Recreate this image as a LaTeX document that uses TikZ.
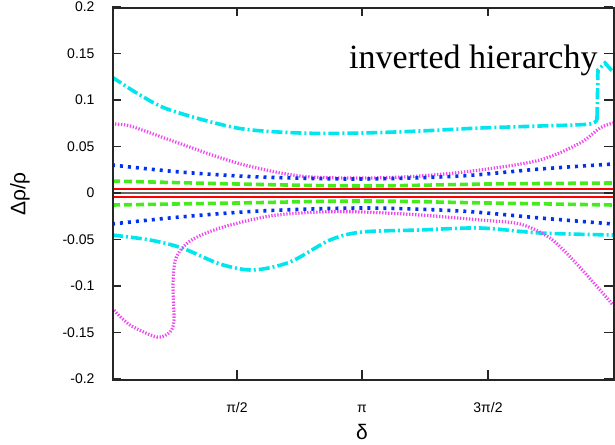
\documentclass[tikz,border=0pt]{standalone}
\usepackage{fontspec}
\setmainfont{Liberation Serif}
\newfontfamily\ticks{Liberation Sans}
\definecolor{cyc}{RGB}{0,230,238}
\definecolor{mgc}{RGB}{240,70,240}
\definecolor{blc}{RGB}{0,50,240}
\definecolor{grc}{RGB}{70,235,30}
\begin{document}
\begin{tikzpicture}[x=1pt,y=-1pt,
  cy/.style={cyc,line width=3.6pt,dash pattern=on 11pt off 3pt on 2pt off 3pt},
  mg/.style={mgc,line width=3.2pt,dash pattern=on 1.3pt off 1.7pt},
  bl/.style={blc,line width=3.6pt,dash pattern=on 3pt off 5pt},
  gr/.style={grc,line width=3.6pt,dash pattern=on 8pt off 4pt},
  rd/.style={red,line width=2.6pt},
  tk/.style={font=\ticks\fontsize{14}{14}\selectfont}]
\useasboundingbox (0,0) rectangle (615,444);
\begin{scope}
\clip (112,7) rectangle (613,379);
\draw[cy] plot[smooth] coordinates {(112,77) (140,95) (170,110) (237,128) (300,133) (362,133) (420,131) (480,128) (540,126) (590,124) (597,118)};
\draw[cy] (597,118) -- (598,70) -- (605,63) -- (613,72);
\draw[cy] plot[smooth] coordinates {(112,235) (150,240) (182,248) (220,264) (253,270) (290,262) (330,240) (362,232) (420,230) (480,228) (540,233) (613,235)};
\draw[mg] plot[smooth] coordinates {(112,124) (130,126) (170,140) (237,163) (300,176) (362,178) (420,176) (480,170) (540,160) (580,143) (600,128) (613,123)};
\draw[mg] plot[smooth] coordinates {(112,308) (130,325) (157,337) (170,332) (174,320) (173,285) (176,258) (190,241) (220,228) (270,216) (320,212) (362,212) (420,215) (480,220) (520,224) (550,238) (575,262) (600,290) (613,305)};
\draw[bl] plot[smooth] coordinates {(112,165) (180,172) (260,177) (362,179) (460,176) (540,169) (613,164)};
\draw[bl] plot[smooth] coordinates {(112,224) (180,217) (260,211) (362,208) (460,211) (540,218) (613,224)};
\draw[gr] plot[smooth] coordinates {(112,181) (237,184) (362,186) (488,184) (613,183)};
\draw[gr] plot[smooth] coordinates {(112,205) (237,203) (362,201) (488,203) (613,205)};
\draw[black!60,line width=1.2pt] (112,193) -- (613,193);
\draw[rd] (112,189) -- (613,189);
\draw[rd] (112,197) -- (613,197);
\end{scope}
\node[draw=black!85,line width=1.8pt,minimum width=501pt,minimum height=372pt,inner sep=0pt,anchor=north west] (frame) at (112,7) {};
\foreach \yy/\lab in {7/0.2,53.5/0.15,100/0.1,146.5/0.05,193/0,239.5/-0.05,286/-0.1,332.5/-0.15,379/-0.2}{
  \draw[black!85,line width=1.2pt] (112,\yy) -- ++(9,0) (613,\yy) -- ++(-9,0);
  \node[tk,anchor=east] (yl) at (98,\yy) {\lab};
}
\foreach \xx/\lab in {237/{π/2},362/{π},488/{3π/2}}{
  \draw[black!85,line width=1.2pt] (\xx,379) -- ++(0,-9) (\xx,7) -- ++(0,9);
  \node[tk,anchor=base] (xl) at (\xx,412) {\lab};
}
\node[font=\ticks\fontsize{21}{21}\selectfont] (xlab) at (362,432) {δ};
\node[font=\ticks\fontsize{21}{21}\selectfont,rotate=90] (ylab) at (20,194) {Δρ/ρ};
\node[font=\fontsize{34}{34}\selectfont,anchor=east] (title) at (601,60) {inverted hierarchy};
\end{tikzpicture}
\end{document}
